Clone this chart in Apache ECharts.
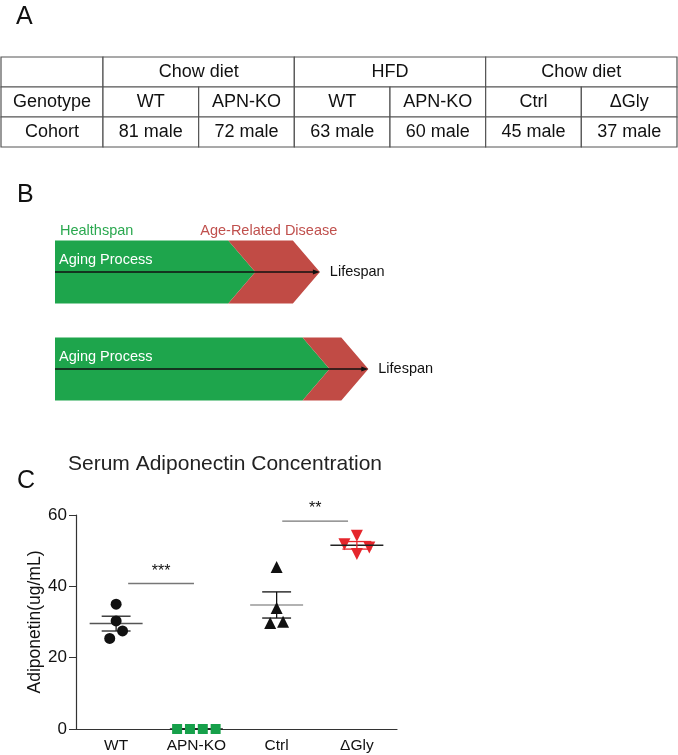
<!DOCTYPE html>
<html>
<head>
<meta charset="utf-8">
<script src="https://cdn.jsdelivr.net/npm/echarts@6/dist/echarts.min.js"></script>
<style>
html, body { margin: 0; padding: 0; background: #fff; }
#main { width: 678px; height: 755px; }
</style>
</head>
<body>
<div id="main"></div>
<script>
// A: cohort table
var dietGroups = ['Chow diet', 'HFD', 'Chow diet'];
var genotypes = ['WT', 'APN-KO', 'WT', 'APN-KO', 'Ctrl', '\u0394Gly'];
var cohortSizes = [81, 72, 63, 60, 45, 37];
var rowNames = ['', 'Genotype', 'Cohort'];

// B: schematic, % of the longest lifespan
var spanRows = ['current', 'extended'];
var healthspan = [62, 85];
var lifespan = [82, 97];

// C: serum adiponectin, ug/mL
var groups = ['WT', 'APN-KO', 'Ctrl', '\u0394Gly'];
var wtVals = [35.0, 30.3, 27.5, 25.4];
var koVals = [0, 0, 0, 0];
var ctrlVals = [45.4, 33.9, 29.7, 30.1];
var glyVals = [54.2, 51.8, 50.9, 49.1];
var wtJitter = [0, 0, 0.08, -0.08];
var koJitter = [-0.24, -0.08, 0.08, 0.24];
var ctrlJitter = [0, 0, -0.08, 0.08];
var glyJitter = [0, -0.155, 0.155, 0];
var sigBars = [[0.15, 0.97, 40.8, '***'], [2.07, 2.89, 58.3, '**']];

var FONT = '"Liberation Sans", Arial, sans-serif';
var LABEL_W = 1.066;

var cells = [];
cells.push({ c0: -LABEL_W, c1: 0, r: 0, t: rowNames[0] });
dietGroups.forEach(function (d, i) { cells.push({ c0: 2 * i, c1: 2 * i + 2, r: 0, t: d }); });
cells.push({ c0: -LABEL_W, c1: 0, r: 1, t: rowNames[1] });
genotypes.forEach(function (g, i) { cells.push({ c0: i, c1: i + 1, r: 1, t: g }); });
cells.push({ c0: -LABEL_W, c1: 0, r: 2, t: rowNames[2] });
cohortSizes.forEach(function (n, i) { cells.push({ c0: i, c1: i + 1, r: 2, t: n + ' male' }); });

function stats(v) {
    var n = v.length;
    var m = v.reduce(function (a, b) { return a + b; }, 0) / n;
    var ss = v.reduce(function (a, b) { return a + (b - m) * (b - m); }, 0);
    return [m, Math.sqrt(ss / (n - 1)) / Math.sqrt(n)];
}
var allVals = [wtVals, koVals, ctrlVals, glyVals];
var summary = allVals.map(function (v, i) { var s = stats(v); return [i, s[0], s[1]]; });
var meanColors = ['#555', '#222', '#999', '#222'];
var semColors = ['#222', '#222', '#111', '#e5262c'];

function pts(vals, jit, g) {
    return vals.map(function (v, i) { return [g + jit[i], v]; });
}

var myChart = echarts.init(document.getElementById('main'));
var option = {
    animation: false,
    backgroundColor: '#fff',
    textStyle: { fontFamily: FONT },
    graphic: [
        { type: 'text', left: 16, top: 5, style: { text: 'A', fontSize: 25, fontFamily: FONT, fill: '#111' } },
        { type: 'text', left: 17, top: 183, style: { text: 'B', fontSize: 25, fontFamily: FONT, fill: '#111' } },
        { type: 'text', left: 17, top: 469, style: { text: 'C', fontSize: 25, fontFamily: FONT, fill: '#111' } },
        { type: 'text', left: 68, top: 454, style: { text: 'Serum Adiponectin Concentration', fontSize: 21, fontFamily: FONT, fill: '#222' } }
    ],
    grid: [
        { left: 1, width: 676, top: 57, height: 90 },
        { left: 55, width: 323, top: 223.5, height: 194 },
        { left: 76, right: 281, top: 515, bottom: 26 }
    ],
    xAxis: [
        { gridIndex: 0, type: 'value', min: -LABEL_W, max: 6, show: false },
        { gridIndex: 1, type: 'value', min: 0, max: 100, show: false },
        {
            gridIndex: 2, type: 'category', data: groups,
            axisLine: { lineStyle: { color: '#333', width: 1.2 } },
            axisTick: { alignWithLabel: true, length: 6, lineStyle: { color: '#333' } },
            axisLabel: { fontSize: 15.5, color: '#111', margin: 9 }
        },
        { gridIndex: 2, type: 'value', min: -0.5, max: 3.5, show: false }
    ],
    yAxis: [
        { gridIndex: 0, type: 'category', data: rowNames, inverse: true, show: false },
        { gridIndex: 1, type: 'category', data: spanRows, inverse: true, show: false },
        {
            gridIndex: 2, type: 'value', min: 0, max: 60, interval: 20,
            name: 'Adiponetin(ug/mL)', nameLocation: 'middle', nameGap: 32,
            nameTextStyle: { fontSize: 17.5, color: '#111' },
            splitLine: { show: false },
            axisLine: { show: true, onZero: false, lineStyle: { color: '#333', width: 1.2 } },
            axisTick: { show: true, length: 7, lineStyle: { color: '#333' } },
            axisLabel: { fontSize: 17, color: '#111', margin: 9 }
        }
    ],
    series: [
        {
            type: 'custom', xAxisIndex: 0, yAxisIndex: 0,
            data: cells.map(function (c) { return [c.c0, c.c1, c.r]; }),
            encode: { x: [0, 1], y: 2 },
            renderItem: function (params, api) {
                var c = cells[params.dataIndex];
                var a = api.coord([c.c0, c.r]);
                var b = api.coord([c.c1, c.r]);
                var h = api.size([0, 1])[1];
                return {
                    type: 'group',
                    children: [
                        { type: 'rect', shape: { x: a[0], y: a[1] - h / 2, width: b[0] - a[0], height: h },
                          style: { fill: '#fff', stroke: '#555', lineWidth: 1.2 } },
                        { type: 'text', style: { x: (a[0] + b[0]) / 2, y: a[1], text: c.t, align: 'center',
                          verticalAlign: 'middle', fill: '#111', fontSize: 18, fontFamily: FONT } }
                    ]
                };
            }
        },
        {
            type: 'custom', xAxisIndex: 1, yAxisIndex: 1,
            data: spanRows.map(function (r, i) { return [healthspan[i], lifespan[i], i]; }),
            encode: { x: [0, 1], y: 2 },
            renderItem: function (params, api) {
                var i = params.dataIndex;
                var o = api.coord([0, i]);
                var x0 = o[0], cy = o[1];
                var xh = api.coord([api.value(0), i])[0];
                var xl = api.coord([api.value(1), i])[0];
                var h = 63, d = 27, top = cy - h / 2, bot = cy + h / 2;
                var kids = [
                    { type: 'polygon', shape: { points: [[x0, top], [xh - d, top], [xh, cy], [xh - d, bot], [x0, bot]] },
                      style: { fill: '#1ea54c' } },
                    { type: 'polygon', shape: { points: [[xh - d, top], [xl - d, top], [xl, cy], [xl - d, bot], [xh - d, bot], [xh, cy]] },
                      style: { fill: '#c14b45' } },
                    { type: 'line', shape: { x1: x0, y1: cy, x2: xl - 4, y2: cy }, style: { stroke: '#111', lineWidth: 1.3 } },
                    { type: 'polygon', shape: { points: [[xl, cy], [xl - 7, cy - 2.5], [xl - 7, cy + 2.5]] }, style: { fill: '#111' } },
                    { type: 'text', style: { x: x0 + 4, y: cy - 12, text: 'Aging Process', verticalAlign: 'middle',
                      fill: '#fff', fontSize: 14.5, fontFamily: FONT } },
                    { type: 'text', style: { x: xl + 10, y: cy, text: 'Lifespan', verticalAlign: 'middle',
                      fill: '#111', fontSize: 14.5, fontFamily: FONT } }
                ];
                if (i === 0) {
                    kids.push({ type: 'text', style: { x: x0 + 5, y: top - 10, text: 'Healthspan', verticalAlign: 'middle',
                        fill: '#2aa84f', fontSize: 14.5, fontFamily: FONT } });
                    kids.push({ type: 'text', style: { x: xh - 55, y: top - 10, text: 'Age-Related Disease', verticalAlign: 'middle',
                        fill: '#c0504d', fontSize: 14.5, fontFamily: FONT } });
                }
                return { type: 'group', children: kids };
            }
        },
        {
            type: 'custom', xAxisIndex: 3, yAxisIndex: 2, z: 2,
            data: summary,
            encode: { x: 0, y: 1 },
            renderItem: function (params, api) {
                var g = api.value(0), m = api.value(1), s = api.value(2);
                var i = params.dataIndex;
                var a = api.coord([g - 0.33, m]), b = api.coord([g + 0.33, m]);
                var hi = api.coord([g, m + s]), lo = api.coord([g, m - s]);
                var w = api.size([0.18, 0])[0];
                return {
                    type: 'group',
                    children: [
                        { type: 'line', shape: { x1: a[0], y1: a[1], x2: b[0], y2: b[1] }, style: { stroke: meanColors[i], lineWidth: 1.5 } },
                        { type: 'line', shape: { x1: hi[0], y1: hi[1], x2: lo[0], y2: lo[1] }, style: { stroke: semColors[i], lineWidth: 1.3 } },
                        { type: 'line', shape: { x1: hi[0] - w, y1: hi[1], x2: hi[0] + w, y2: hi[1] }, style: { stroke: semColors[i], lineWidth: 1.3 } },
                        { type: 'line', shape: { x1: lo[0] - w, y1: lo[1], x2: lo[0] + w, y2: lo[1] }, style: { stroke: semColors[i], lineWidth: 1.3 } }
                    ]
                };
            }
        },
        {
            type: 'custom', xAxisIndex: 3, yAxisIndex: 2,
            data: sigBars.map(function (s) { return [s[0], s[1], s[2]]; }),
            encode: { x: [0, 1], y: 2 },
            renderItem: function (params, api) {
                var a = api.coord([api.value(0), api.value(2)]);
                var b = api.coord([api.value(1), api.value(2)]);
                return {
                    type: 'group',
                    children: [
                        { type: 'line', shape: { x1: a[0], y1: a[1], x2: b[0], y2: b[1] }, style: { stroke: '#777', lineWidth: 1.3 } },
                        { type: 'text', style: { x: (a[0] + b[0]) / 2, y: a[1] - 12, text: sigBars[params.dataIndex][3],
                          align: 'center', verticalAlign: 'middle', fill: '#111', fontSize: 16, fontFamily: FONT } }
                    ]
                };
            }
        },
        { type: 'scatter', xAxisIndex: 3, yAxisIndex: 2, z: 3, symbol: 'circle', symbolSize: 11,
          itemStyle: { color: '#111', opacity: 1 }, data: pts(wtVals, wtJitter, 0) },
        { type: 'scatter', xAxisIndex: 3, yAxisIndex: 2, z: 3, symbol: 'rect', symbolSize: 10,
          itemStyle: { color: '#16a04a', opacity: 1 }, data: pts(koVals, koJitter, 1) },
        { type: 'scatter', xAxisIndex: 3, yAxisIndex: 2, z: 3, symbol: 'triangle', symbolSize: 12,
          itemStyle: { color: '#111', opacity: 1 }, data: pts(ctrlVals, ctrlJitter, 2) },
        { type: 'scatter', xAxisIndex: 3, yAxisIndex: 2, z: 1, symbol: 'triangle', symbolRotate: 180, symbolSize: 12,
          itemStyle: { color: '#e5262c', opacity: 1 }, data: pts(glyVals, glyJitter, 3) }
    ]
};
myChart.setOption(option);
window.addEventListener('resize', function () {
    myChart.resize();
});
</script>
</body>
</html>
